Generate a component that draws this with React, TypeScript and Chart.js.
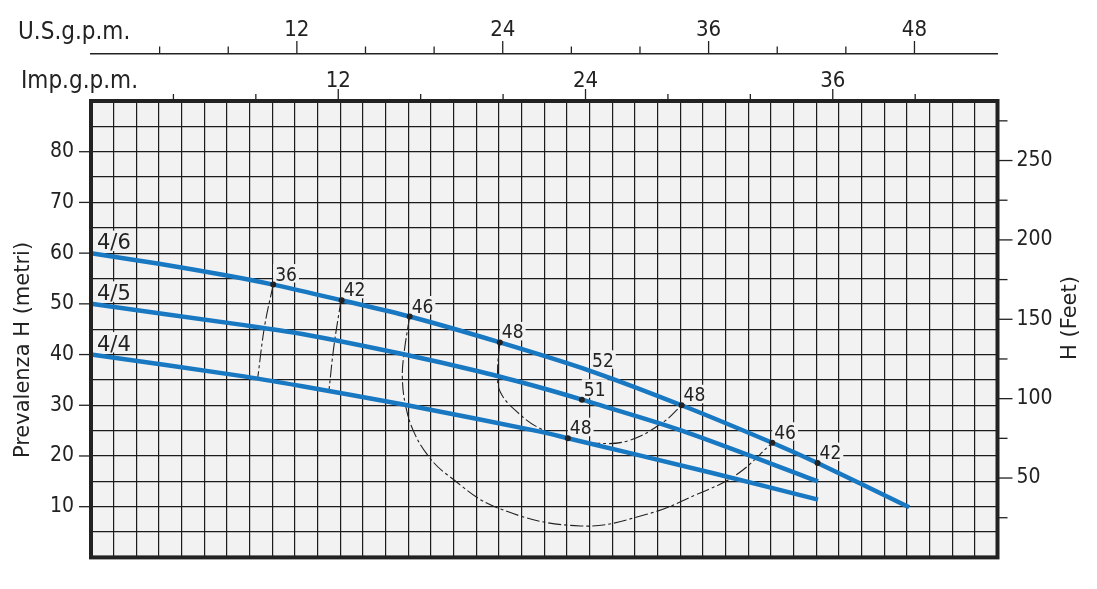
import React, { useEffect, useRef } from 'react';
import { Chart, registerables } from 'chart.js';

Chart.register(...registerables);

// ---- axis ranges (hidden flow axis in l/min, head in metres) ----
const flowMin = 0;
const flowMax = 200;
const flowGridStep = 5;
const headMin = 0;
const headMax = 90;
const headGridStep = 5;
const usGpmMax = flowMax / 3.785;
const impGpmMax = flowMax / 4.546;
const headFtMax = 287.5;

// ---- tick values / labels ----
const headMLabels = [10, 20, 30, 40, 50, 60, 70, 80];
const headFtTicks = [25, 50, 75, 100, 125, 150, 175, 200, 225, 250, 275];
const headFtLabels = [50, 100, 150, 200, 250];
const usGpmTicks = [4, 8, 12, 16, 20, 24, 28, 32, 36, 40, 44, 48];
const usGpmLabels = [12, 24, 36, 48];
const impGpmTicks = [4, 8, 12, 16, 20, 24, 28, 32, 36, 40];
const impGpmLabels = [12, 24, 36];

// ---- pump curves ----
const seriesNames = ['4/6', '4/5', '4/4'];
const flow46 = [0, 15, 30, 40.2, 55.3, 70.3, 90.2, 110.1, 130.3, 150.3, 160.3, 180.5];
const head46 = [60, 57.9, 55.6, 53.8, 50.7, 47.5, 42.4, 36.8, 30.0, 22.6, 18.6, 9.9];
const flow45 = [0, 33, 46.3, 68.7, 85.9, 99.1, 108.3, 130, 160.4];
const head45 = [50, 45.9, 44.1, 40.1, 36.6, 33.5, 31.1, 25.1, 15.0];
const flow44 = [0, 33, 46.3, 69.8, 99.1, 105.2, 137.3, 160.4];
const head44 = [40, 35.8, 33.8, 30.0, 24.8, 23.5, 16.6, 11.4];

// ---- iso-efficiency lines ----
const eff36Flow = [40.2, 38.3, 36.8];
const eff36Head = [53.8, 45.6, 35.5];
const eff42Flow = [55.2, 53.6, 52.5];
const eff42Head = [50.9, 41.7, 32.9];
const eff48Flow = [90.2, 89.7, 90.3, 94.0, 99.1, 105.2, 111.6, 118.9, 126.3, 130.3];
const eff48Head = [42.4, 36.5, 32.6, 28.7, 25.4, 23.5, 22.5, 23.1, 26.7, 30.0];
const eff46Flow = [70.3, 69.0, 68.7, 69.4, 71.2, 74.5, 78.6, 89.6, 107.9, 122.6, 133.6, 142.4, 150.3];
const eff46Head = [47.5, 39.8, 35.2, 30.0, 24.8, 19.9, 16.3, 9.8, 6.2, 8.5, 12.4, 16.3, 22.6];

// ---- efficiency markers ----
const markerFlow = [40.2, 55.3, 70.3, 90.2, 110.1, 130.3, 150.3, 160.3, 108.3, 105.2];
const markerHead = [53.8, 50.7, 47.5, 42.4, 36.8, 30.0, 22.6, 18.6, 31.1, 23.5];
const markerLabels = ['36', '42', '46', '48', '52', '48', '46', '42', '51', '48'];
const markerDot = [true, true, true, true, false, true, true, true, true, true];

// ---- styles ----
const BLUE = '#1878c2';
const INK = '#222222';
const GRID = '#1c1c1c';
const PAPER = '#f2f2f2';
const COND = "'DejaVu Sans Condensed', 'DejaVu Sans', sans-serif";
const SANS = "'DejaVu Sans', sans-serif";

const pts = (xs: number[], ys: number[]) => xs.map((x, i) => ({ x, y: ys[i] }));

function forEachLabel(chart: any, fn: (t: string, x: number, y: number, font: string, capH: number) => void) {
  const sx = chart.scales.x;
  const sy = chart.scales.y;
  const heads0 = [head46[0], head45[0], head44[0]];
  const flows0 = [flow46[0], flow45[0], flow44[0]];
  seriesNames.forEach((name, i) => {
    fn(name, sx.getPixelForValue(flows0[i]) + 6, sy.getPixelForValue(heads0[i]) - 4, `21px ${SANS}`, 15.5);
  });
  markerLabels.forEach((lab, i) => {
    fn(lab, sx.getPixelForValue(markerFlow[i]) + 2, sy.getPixelForValue(markerHead[i]) - 4, `19px ${COND}`, 13.5);
  });
}

const decorPlugin = {
  id: 'pumpDecor',
  beforeDraw(chart: any) {
    const { ctx, chartArea: a } = chart;
    ctx.save();
    ctx.fillStyle = PAPER;
    ctx.fillRect(a.left, a.top, a.right - a.left, a.bottom - a.top);
    ctx.restore();
  },
  beforeDatasetsDraw(chart: any) {
    const { ctx } = chart;
    ctx.save();
    ctx.fillStyle = PAPER;
    forEachLabel(chart, (t, x, y, font, capH) => {
      ctx.font = font;
      const w = ctx.measureText(t).width;
      ctx.fillRect(x - 2, y - capH - 3, w + 4, capH + 5);
    });
    ctx.restore();
  },
  afterDatasetsDraw(chart: any) {
    const { ctx, chartArea: a } = chart;
    ctx.save();
    ctx.fillStyle = INK;
    ctx.textAlign = 'left';
    ctx.textBaseline = 'alphabetic';
    forEachLabel(chart, (t, x, y, font) => {
      ctx.font = font;
      ctx.fillText(t, x, y);
    });
    ctx.strokeStyle = INK;
    ctx.lineWidth = 4;
    ctx.strokeRect(a.left, a.top, a.right - a.left, a.bottom - a.top);
    ctx.restore();
  },
  afterDraw(chart: any) {
    const { ctx, chartArea: a, scales } = chart;
    ctx.save();
    ctx.strokeStyle = INK;
    ctx.lineWidth = 1.3;
    const line = (x1: number, y1: number, x2: number, y2: number) => {
      ctx.beginPath();
      ctx.moveTo(x1, y1);
      ctx.lineTo(x2, y2);
      ctx.stroke();
    };
    headMLabels.forEach((v) => {
      const y = scales.y.getPixelForValue(v);
      line(a.left - 12, y, a.left, y);
    });
    headFtTicks.forEach((v) => {
      const y = scales.yFt.getPixelForValue(v);
      const len = headFtLabels.includes(v) ? 15 : 10;
      line(a.right, y, a.right + len, y);
    });
    impGpmTicks.forEach((v) => {
      const x = scales.imp.getPixelForValue(v);
      const len = impGpmLabels.includes(v) ? 12 : 7;
      line(x, a.top - len, x, a.top);
    });
    const yb = scales.us.bottom;
    usGpmTicks.forEach((v) => {
      const x = scales.us.getPixelForValue(v);
      const len = usGpmLabels.includes(v) ? 13 : 7.5;
      line(x, yb - len, x, yb);
    });

    ctx.fillStyle = INK;
    ctx.textBaseline = 'alphabetic';
    ctx.textAlign = 'left';
    ctx.font = `24px ${COND}`;
    ctx.fillText('U.S.g.p.m.', 18, yb - 15);
    ctx.fillText('Imp.g.p.m.', 21, a.top - 13);

    ctx.font = `21px ${SANS}`;
    ctx.textAlign = 'center';
    ctx.textBaseline = 'middle';
    ctx.save();
    ctx.translate(24, 350);
    ctx.rotate(-Math.PI / 2);
    ctx.fillText('Prevalenza H (metri)', 0, 0);
    ctx.restore();
    ctx.save();
    ctx.translate(1071, 318);
    ctx.rotate(-Math.PI / 2);
    ctx.fillText('H (Feet)', 0, 0);
    ctx.restore();
    ctx.restore();
  },
};

export default function App() {
  const ref = useRef<HTMLCanvasElement>(null);
  useEffect(() => {
    const tickFontY = { family: COND, size: 21 };
    const tickFontTop = { family: COND, size: 22 };
    const effStyle = {
      borderColor: INK,
      borderWidth: 1.1,
      borderDash: [13, 3, 3, 3],
      tension: 0.4,
      pointRadius: 0,
      fill: false,
    };
    const curveStyle = {
      borderColor: BLUE,
      borderWidth: 4.5,
      pointRadius: 0,
      tension: 0.3,
      fill: false,
    };
    const chart = new Chart(ref.current as HTMLCanvasElement, {
      type: 'line',
      data: {
        datasets: [
          {
            label: 'markers',
            data: pts(markerFlow, markerHead),
            showLine: false,
            pointRadius: (c: any) => (markerDot[c.dataIndex] ? 3 : 0),
            pointBackgroundColor: INK,
            pointBorderWidth: 0,
          },
          { label: seriesNames[0], data: pts(flow46, head46), ...curveStyle },
          { label: seriesNames[1], data: pts(flow45, head45), ...curveStyle },
          { label: seriesNames[2], data: pts(flow44, head44), ...curveStyle },
          { label: 'eff36', data: pts(eff36Flow, eff36Head), ...effStyle },
          { label: 'eff42', data: pts(eff42Flow, eff42Head), ...effStyle },
          { label: 'eff48', data: pts(eff48Flow, eff48Head), ...effStyle },
          { label: 'eff46', data: pts(eff46Flow, eff46Head), ...effStyle },
        ] as any,
      },
      options: {
        animation: false,
        responsive: true,
        maintainAspectRatio: false,
        layout: { padding: 0 },
        plugins: { legend: { display: false }, tooltip: { enabled: false }, title: { display: false } },
        events: [],
        scales: {
          x: {
            type: 'linear',
            position: 'bottom',
            min: flowMin,
            max: flowMax,
            ticks: { display: false, stepSize: flowGridStep },
            grid: { color: GRID, lineWidth: 1.2, drawTicks: false },
            border: { display: false },
            afterFit: (s: any) => { s.height = 29.5; },
          },
          y: {
            type: 'linear',
            position: 'left',
            min: headMin,
            max: headMax,
            ticks: {
              stepSize: headGridStep,
              padding: 17,
              font: tickFontY,
              color: INK,
              autoSkip: false,
              callback: (v: any) => (headMLabels.includes(v) ? String(v) : ''),
            },
            grid: { color: GRID, lineWidth: 1.2, drawTicks: false },
            border: { display: false },
            afterFit: (s: any) => { s.width = 91; },
          },
          yFt: {
            type: 'linear',
            position: 'right',
            min: 0,
            max: headFtMax,
            afterBuildTicks: (s: any) => { s.ticks = headFtTicks.map((v) => ({ value: v })); },
            ticks: {
              padding: 19,
              font: tickFontY,
              color: INK,
              autoSkip: false,
              callback: (v: any) => (headFtLabels.includes(v) ? String(v) : ''),
            },
            grid: { drawOnChartArea: false, drawTicks: false },
            border: { display: false },
            afterFit: (s: any) => { s.width = 99.5; },
          },
          imp: {
            type: 'linear',
            position: 'top',
            weight: 0,
            min: 0,
            max: impGpmMax,
            afterBuildTicks: (s: any) => { s.ticks = impGpmTicks.map((v) => ({ value: v })); },
            ticks: {
              padding: 7,
              font: tickFontTop,
              color: INK,
              autoSkip: false,
              maxRotation: 0,
              callback: (v: any) => (impGpmLabels.includes(v) ? String(v) : ''),
            },
            grid: { drawOnChartArea: false, drawTicks: false },
            border: { display: false },
            afterFit: (s: any) => { s.height = 47; },
          },
          us: {
            type: 'linear',
            position: 'top',
            weight: 1,
            min: 0,
            max: usGpmMax,
            afterBuildTicks: (s: any) => { s.ticks = usGpmTicks.map((v) => ({ value: v })); },
            ticks: {
              padding: 11,
              font: tickFontTop,
              color: INK,
              autoSkip: false,
              maxRotation: 0,
              callback: (v: any) => (usGpmLabels.includes(v) ? String(v) : ''),
            },
            grid: { drawOnChartArea: false, drawTicks: false },
            border: { display: true, color: INK, width: 1.5 },
            afterFit: (s: any) => { s.height = 54; },
          },
        } as any,
      },
      plugins: [decorPlugin as any],
    });
    return () => chart.destroy();
  }, []);
  return (
    <div style={{ position: 'fixed', left: 0, top: 0, width: 1097, height: 589, background: '#ffffff' }}>
      <canvas ref={ref} />
    </div>
  );
}
